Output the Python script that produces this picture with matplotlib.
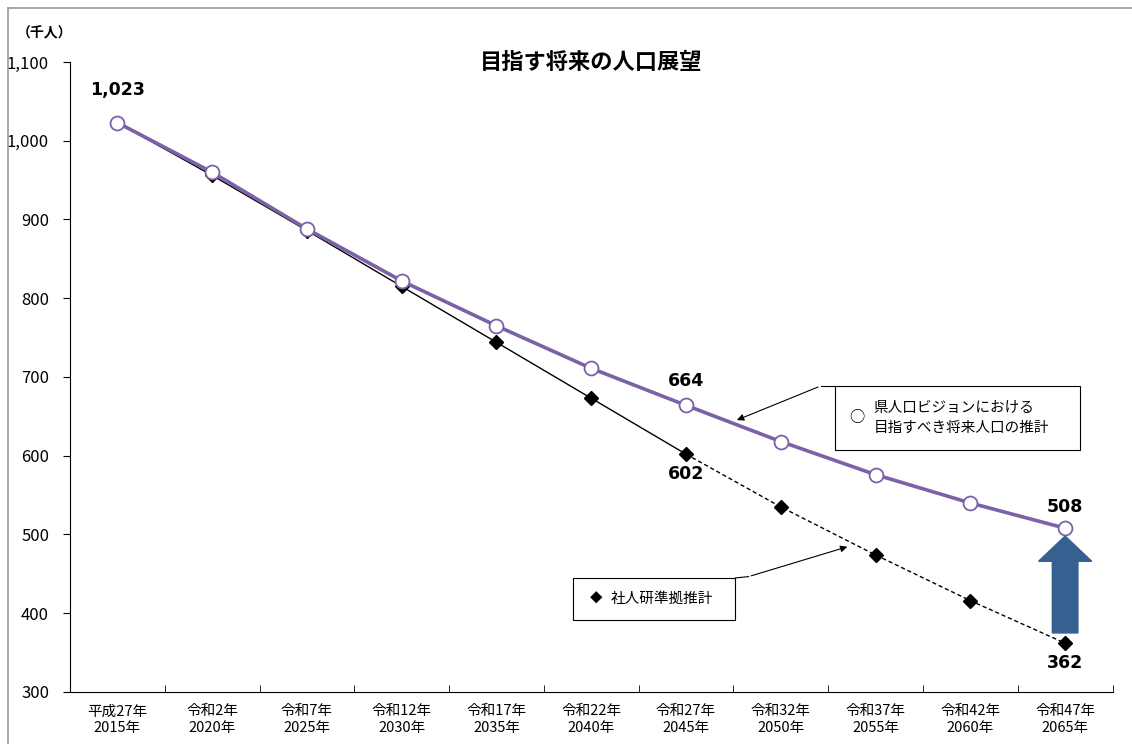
import matplotlib.pyplot as plt
from matplotlib.patches import FancyArrow, Rectangle
from matplotlib.lines import Line2D

plt.rcParams['font.family'] = ['Noto Sans CJK JP', 'DejaVu Sans']

years = ["平成27年\n2015年", "令和2年\n2020年", "令和7年\n2025年", "令和12年\n2030年",
         "令和17年\n2035年", "令和22年\n2040年", "令和27年\n2045年", "令和32年\n2050年",
         "令和37年\n2055年", "令和42年\n2060年", "令和47年\n2065年"]
vision = [1023, 960, 888, 822, 765, 711, 664, 618, 576, 540, 508]
ipss = [1023, 956, 886, 815, 744, 673, 602, 535, 474, 416, 362]
yticks = [300, 400, 500, 600, 700, 800, 900, 1000, 1100]

purple = "#7b62a8"
x = list(range(len(years)))

fig = plt.figure(figsize=(11.32, 7.44), dpi=100)
ax = fig.add_axes([0.0618, 0.0699, 0.921, 0.8468])

# outer frame (top and left edges only visible)
fx, fy = 7.5 / 1132, 1 - 7.5 / 744
fig.lines.append(Line2D([fx, 1], [fy, fy], transform=fig.transFigure, color="#9a9a9a", linewidth=1.2))
fig.lines.append(Line2D([fx, fx], [0, fy], transform=fig.transFigure, color="#9a9a9a", linewidth=1.2))

# 社人研準拠推計: solid up to 2045, dashed after
ax.plot(x[:7], ipss[:7], color="black", linewidth=1, zorder=2)
ax.plot(x[6:], ipss[6:], color="black", linewidth=1, linestyle=(0, (3, 2)), zorder=2)
ax.plot(x, ipss, linestyle="none", marker="D", markersize=7, color="black", zorder=3)

ax.plot(x, vision, color=purple, linewidth=2.6, marker="o", markersize=10,
        markerfacecolor="white", markeredgecolor=purple, markeredgewidth=1.3, zorder=4)

lab = dict(fontsize=12.5, fontweight="bold", ha="center", family=["Liberation Sans Narrow", "DejaVu Sans"])
ax.text(0, vision[0] + 30, "1,023", va="bottom", **lab)
ax.text(6, vision[6] + 19, "664", va="bottom", **lab)
ax.text(6, ipss[6] - 14, "602", va="top", **lab)
ax.text(10, vision[10] + 16, "508", va="bottom", **lab)
ax.text(10, ipss[10] - 14, "362", va="top", **lab)

# blue arrow
ax.add_patch(FancyArrow(10, 375, 0, 123, width=0.27, head_width=0.56, head_length=32,
                        length_includes_head=True, color="#36608f", zorder=5))

# callout box 1
ax.add_patch(Rectangle((7.57, 607.3), 2.59, 81.3, fill=True, facecolor="white",
                       edgecolor="black", linewidth=0.8, zorder=5))
ax.text(7.72, 648, "○", fontsize=11, va="center", ha="left", zorder=6)
ax.text(7.98, 648, "県人口ビジョンにおける\n目指すべき将来人口の推計", fontsize=10.5,
        va="center", ha="left", linespacing=1.5, zorder=6)
ax.plot([7.57, 7.42], [688.6, 688.6], color="black", linewidth=0.8, zorder=5)
ax.annotate("", xy=(6.51, 644), xytext=(7.42, 688.6),
            arrowprops=dict(arrowstyle="-|>", color="black", lw=0.8, mutation_scale=10))

# callout box 2
ax.add_patch(Rectangle((4.81, 391.4), 1.71, 53.4, fill=True, facecolor="white",
                       edgecolor="black", linewidth=0.8, zorder=5))
ax.text(4.98, 418, "◆", fontsize=9, va="center", ha="left", zorder=6)
ax.text(5.2, 418, "社人研準拠推計", fontsize=10.5, va="center", ha="left", zorder=6)
ax.plot([6.52, 6.66], [444.8, 446.5], color="black", linewidth=0.8, zorder=5)
ax.annotate("", xy=(7.73, 485.4), xytext=(6.66, 446.5),
            arrowprops=dict(arrowstyle="-|>", color="black", lw=0.8, mutation_scale=10))

ax.set_xlim(-0.5, 10.5)
ax.set_ylim(300, 1100)
ax.set_yticks(yticks)
ax.set_yticklabels([f"{v:,}" for v in yticks], fontsize=12)
ax.set_xticks(x)
ax.set_xticklabels(years, fontsize=10.5, linespacing=1.25)
ax.set_xticks([i - 0.5 for i in range(len(years) + 1)], minor=True)
ax.tick_params(axis="x", which="major", length=0, pad=9)
ax.tick_params(axis="x", which="minor", length=5, direction="in")
ax.tick_params(axis="y", length=5, direction="out", pad=10)
ax.spines["top"].set_visible(False)
ax.spines["right"].set_visible(False)

ax.set_title("目指す将来の人口展望", fontsize=16, fontweight="bold", y=0.975)
fig.text(45 / 1132, 1 - 33 / 744, "（千人）", fontsize=10, fontweight="bold", ha="center", va="center")

fig.savefig("out.png", dpi=100)
